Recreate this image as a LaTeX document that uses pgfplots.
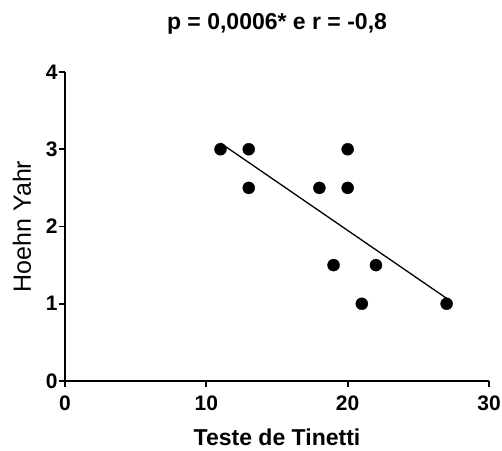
\documentclass[border=0pt]{standalone}
\usepackage{pgfplots}
\pgfplotsset{compat=1.18}
\usepackage{fontspec}
\setmainfont{Liberation Sans}

\begin{document}
\begin{tikzpicture}
\begin{axis}[
  scale only axis,
  width=424pt, height=309pt,
  at={(0,0)}, anchor=origin,
  xmin=0, xmax=30, ymin=0, ymax=4,
  xtick={0,10,20,30}, ytick={0,1,2,3,4},
  axis x line=bottom, axis y line=left,
  axis line style={-, line width=1.8pt},
  tick style={line width=1.8pt, black},
  tick align=outside, major tick length=6pt,
  x tick label style={font=\fontsize{21}{24}\selectfont\bfseries, yshift=-5pt},
  y tick label style={font=\fontsize{21}{24}\selectfont\bfseries, xshift=2pt},
  /pgf/number format/assume math mode=true,
  clip=false,
  title={p = 0,0006* e r = -0,8},
  title style={font=\fontsize{23}{26}\selectfont\bfseries, at={(axis description cs:0.5,1)}, anchor=base, yshift=37pt},
  xlabel={Teste de Tinetti},
  xlabel style={font=\fontsize{23}{26}\selectfont\bfseries, at={(axis description cs:0.5,0)}, anchor=base, yshift=-64pt},
  ylabel={Hoehn Yahr},
  ylabel style={font=\fontsize{25}{28}\selectfont, at={(axis description cs:0,0.5)}, anchor=center, yshift=43pt},
]
\addplot[only marks, mark=*, mark size=6pt, black] coordinates {
  (11,3) (13,3) (13,2.5) (18,2.5) (20,3) (20,2.5) (19,1.5) (22,1.5) (21,1) (27,1)
};
\addplot[black, line width=1.3pt] coordinates {(11,3.08) (27,1.07)};
\end{axis}
\pgfresetboundingbox
\useasboundingbox (-65pt,-69pt) rectangle (437pt,381pt);
\end{tikzpicture}
\end{document}
